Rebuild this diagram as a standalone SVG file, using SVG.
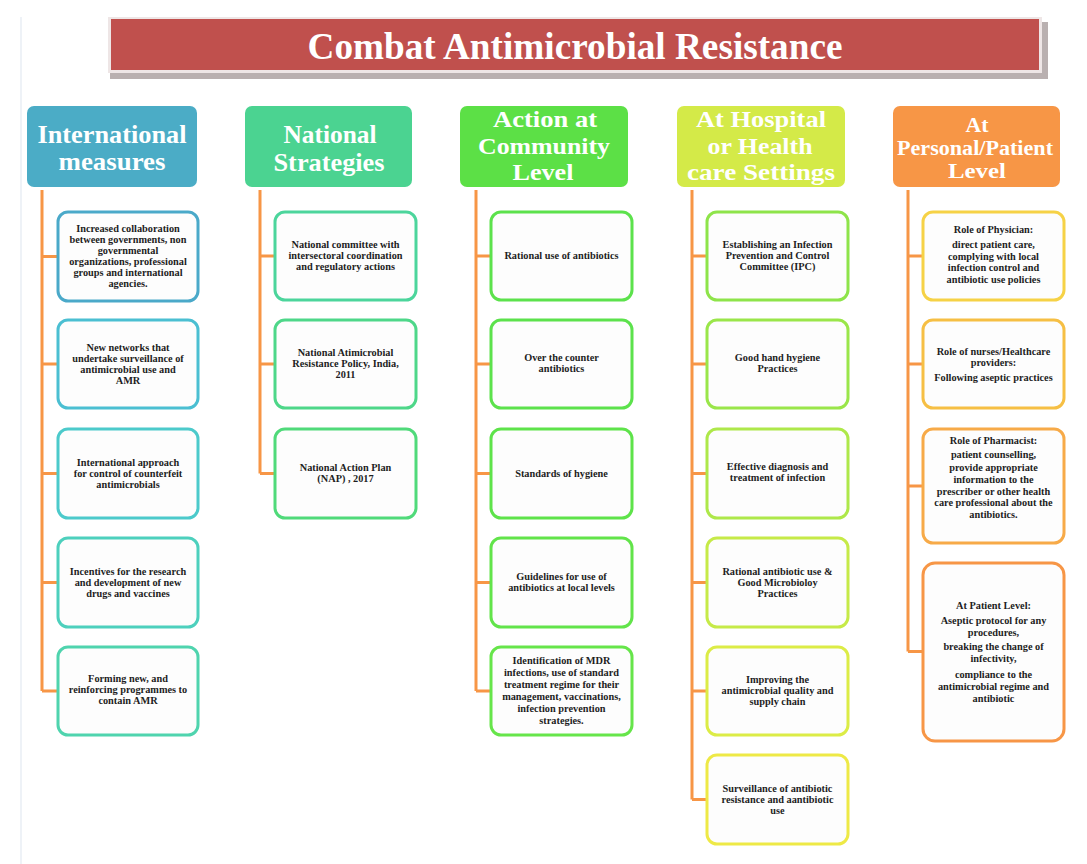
<svg xmlns="http://www.w3.org/2000/svg" width="1087" height="864" viewBox="0 0 1087 864">
<style>
.hd{font-family:"Liberation Serif","Times New Roman",serif;font-weight:bold;fill:#fff;text-anchor:middle}
.bx{fill:#fdfdfd;stroke-width:3}
.bt{font-family:"Liberation Serif","Times New Roman",serif;font-weight:bold;font-size:10.3px;fill:#1e1e1e;text-anchor:middle}
.cn{stroke:#f79646;stroke-width:3;fill:none}
</style>
<rect x="0" y="0" width="1087" height="864" fill="#fff"/>
<line x1="21" y1="17" x2="21" y2="864" stroke="#e8eef5" stroke-width="1.5"/>
<g id="title">
<rect x="110" y="22" width="938" height="57" fill="#b9b0b0"/>
<rect x="108" y="17" width="934" height="56" fill="#eee6e6"/>
<rect x="111" y="19" width="928" height="51" fill="#c0504d"/>
<text class="hd" x="575" y="59" font-size="37" textLength="535" lengthAdjust="spacingAndGlyphs">Combat Antimicrobial Resistance</text>
</g>
<g id="connectors">
<path class="cn" d="M42 190V691M42 256.5H58M42 364H58M42 473.5H58M42 582.5H58M42 691H58"/>
<path class="cn" d="M260 190V473.5M260 256H275M260 364H275M260 473.5H275"/>
<path class="cn" d="M476 190V691M476 256H491M476 364H491M476 473.5H491M476 582.5H491M476 691H491"/>
<path class="cn" d="M692 190V799.5M692 256H707M692 364H707M692 473.5H707M692 582.5H707M692 691H707M692 799.5H707"/>
<path class="cn" d="M908 190V651.5M908 256H923M908 364H923M908 486H923M908 651.5H923"/>
</g>
<g id="h1"><rect x="27" y="106" width="170" height="81" rx="7" fill="#4bacc6"/>
<text class="hd" x="112" y="143" font-size="26" textLength="149" lengthAdjust="spacingAndGlyphs">International</text>
<text class="hd" x="112" y="170" font-size="26" textLength="107" lengthAdjust="spacingAndGlyphs">measures</text></g>
<g id="h2"><rect x="245" y="106" width="167" height="81" rx="7" fill="#4bd391"/>
<text class="hd" x="330" y="143" font-size="26" textLength="93" lengthAdjust="spacingAndGlyphs">National</text>
<text class="hd" x="329" y="171" font-size="26" textLength="111" lengthAdjust="spacingAndGlyphs">Strategies</text></g>
<g id="h3"><rect x="460" y="106" width="168" height="81" rx="7" fill="#5ce046"/>
<text class="hd" x="545" y="127" font-size="24" textLength="104" lengthAdjust="spacingAndGlyphs">Action at</text>
<text class="hd" x="544" y="154" font-size="24" textLength="132" lengthAdjust="spacingAndGlyphs">Community</text>
<text class="hd" x="543" y="180" font-size="24" textLength="61" lengthAdjust="spacingAndGlyphs">Level</text></g>
<g id="h4"><rect x="677" y="106" width="168" height="81" rx="7" fill="#d4ea48"/>
<text class="hd" x="761" y="127" font-size="24" textLength="130" lengthAdjust="spacingAndGlyphs">At Hospital</text>
<text class="hd" x="760" y="154" font-size="24" textLength="105" lengthAdjust="spacingAndGlyphs">or Health</text>
<text class="hd" x="761" y="180" font-size="24" textLength="148" lengthAdjust="spacingAndGlyphs">care Settings</text></g>
<g id="h5"><rect x="893" y="106" width="167" height="81" rx="7" fill="#f79646"/>
<text class="hd" x="977" y="132" font-size="20" textLength="23" lengthAdjust="spacingAndGlyphs">At</text>
<text class="hd" x="975" y="155" font-size="20" textLength="156" lengthAdjust="spacingAndGlyphs">Personal/Patient</text>
<text class="hd" x="977" y="178" font-size="20" textLength="58" lengthAdjust="spacingAndGlyphs">Level</text></g>

<g id="c1b1"><rect class="bx" x="58" y="212" width="140" height="89" rx="10" stroke="#4aa9c9"/>
<text class="bt" x="128" y="232">Increased collaboration</text><text class="bt" x="128" y="243">between governments, non</text><text class="bt" x="128" y="254">governmental</text><text class="bt" x="128" y="265">organizations, professional</text><text class="bt" x="128" y="276">groups and international</text><text class="bt" x="128" y="287">agencies.</text></g>
<g id="c1b2"><rect class="bx" x="58" y="320" width="140" height="88" rx="10" stroke="#4bbfd2"/>
<text class="bt" x="128" y="351">New networks that</text><text class="bt" x="128" y="362">undertake surveillance of</text><text class="bt" x="128" y="373">antimicrobial use and</text><text class="bt" x="128" y="384">AMR</text></g>
<g id="c1b3"><rect class="bx" x="58" y="429" width="140" height="89" rx="10" stroke="#4ccacb"/>
<text class="bt" x="128" y="466">International approach</text><text class="bt" x="128" y="477">for control of counterfeit</text><text class="bt" x="128" y="488">antimicrobials</text></g>
<g id="c1b4"><rect class="bx" x="58" y="538" width="140" height="89" rx="10" stroke="#4dd0bd"/>
<text class="bt" x="128" y="575">Incentives for the research</text><text class="bt" x="128" y="586">and development of new</text><text class="bt" x="128" y="597">drugs and vaccines</text></g>
<g id="c1b5"><rect class="bx" x="58" y="647" width="140" height="88" rx="10" stroke="#4fd4ae"/>
<text class="bt" x="128" y="682">Forming new, and</text><text class="bt" x="128" y="693">reinforcing programmes to</text><text class="bt" x="128" y="704">contain AMR</text></g>

<g id="c2b1"><rect class="bx" x="275" y="212" width="141" height="88" rx="10" stroke="#4cd59c"/>
<text class="bt" x="345.5" y="248">National committee with</text><text class="bt" x="345.5" y="259">intersectoral coordination</text><text class="bt" x="345.5" y="270">and regulatory actions</text></g>
<g id="c2b2"><rect class="bx" x="275" y="320" width="141" height="88" rx="10" stroke="#4ed789"/>
<text class="bt" x="345.5" y="356">National Atimicrobial</text><text class="bt" x="345.5" y="367">Resistance Policy, India,</text><text class="bt" x="345.5" y="378">2011</text></g>
<g id="c2b3"><rect class="bx" x="275" y="429" width="141" height="89" rx="10" stroke="#50da7a"/>
<text class="bt" x="345.5" y="471">National Action Plan</text><text class="bt" x="345.5" y="482">(NAP) , 2017</text></g>

<g id="c3b1"><rect class="bx" x="491" y="212" width="141" height="88" rx="10" stroke="#5ce24c"/>
<text class="bt" x="561.5" y="259">Rational use of antibiotics</text></g>
<g id="c3b2"><rect class="bx" x="491" y="320" width="141" height="88" rx="10" stroke="#5ce24c"/>
<text class="bt" x="561.5" y="361">Over the counter</text><text class="bt" x="561.5" y="372">antibiotics</text></g>
<g id="c3b3"><rect class="bx" x="491" y="429" width="141" height="89" rx="10" stroke="#5ee34a"/>
<text class="bt" x="561.5" y="477">Standards of hygiene</text></g>
<g id="c3b4"><rect class="bx" x="491" y="538" width="141" height="89" rx="10" stroke="#62e44a"/>
<text class="bt" x="561.5" y="580">Guidelines for use of</text><text class="bt" x="561.5" y="591">antibiotics at local levels</text></g>
<g id="c3b5"><rect class="bx" x="491" y="647" width="141" height="88" rx="10" stroke="#66e54a"/>
<text class="bt" x="561.5" y="664">Identification of MDR</text><text class="bt" x="561.5" y="676">infections, use of standard</text><text class="bt" x="561.5" y="688">treatment regime for their</text><text class="bt" x="561.5" y="700">management, vaccinations,</text><text class="bt" x="561.5" y="712">infection prevention</text><text class="bt" x="561.5" y="724">strategies.</text></g>

<g id="c4b1"><rect class="bx" x="707" y="212" width="141" height="88" rx="10" stroke="#8ee44a"/>
<text class="bt" x="777.5" y="248">Establishing an Infection</text><text class="bt" x="777.5" y="259">Prevention and Control</text><text class="bt" x="777.5" y="270">Committee (IPC)</text></g>
<g id="c4b2"><rect class="bx" x="707" y="320" width="141" height="88" rx="10" stroke="#9ae64a"/>
<text class="bt" x="777.5" y="361">Good hand hygiene</text><text class="bt" x="777.5" y="372">Practices</text></g>
<g id="c4b3"><rect class="bx" x="707" y="429" width="141" height="89" rx="10" stroke="#aee84a"/>
<text class="bt" x="777.5" y="470">Effective diagnosis and</text><text class="bt" x="777.5" y="481">treatment of infection</text></g>
<g id="c4b4"><rect class="bx" x="707" y="538" width="141" height="89" rx="10" stroke="#c6ea48"/>
<text class="bt" x="777.5" y="575">Rational antibiotic use &amp;</text><text class="bt" x="777.5" y="586">Good Microbioloy</text><text class="bt" x="777.5" y="597">Practices</text></g>
<g id="c4b5"><rect class="bx" x="707" y="647" width="141" height="88" rx="10" stroke="#dcec46"/>
<text class="bt" x="777.5" y="683">Improving the</text><text class="bt" x="777.5" y="694">antimicrobial quality and</text><text class="bt" x="777.5" y="705">supply chain</text></g>
<g id="c4b6"><rect class="bx" x="707" y="755" width="141" height="89" rx="10" stroke="#eee946"/>
<text class="bt" x="777.5" y="792">Surveillance of antibiotic</text><text class="bt" x="777.5" y="803">resistance and aantibiotic</text><text class="bt" x="777.5" y="814">use</text></g>

<g id="c5b1"><rect class="bx" x="923" y="212" width="141" height="88" rx="10" stroke="#f6d246"/>
<text class="bt" x="993.5" y="233">Role of Physician:</text><text class="bt" x="993.5" y="248">direct patient care,</text><text class="bt" x="993.5" y="260">complying with local</text><text class="bt" x="993.5" y="271">infection control and</text><text class="bt" x="993.5" y="283">antibiotic use policies</text></g>
<g id="c5b2"><rect class="bx" x="923" y="320" width="141" height="88" rx="10" stroke="#f6bf44"/>
<text class="bt" x="993.5" y="355">Role of nurses/Healthcare</text><text class="bt" x="993.5" y="366">providers:</text><text class="bt" x="993.5" y="381">Following aseptic practices</text></g>
<g id="c5b3"><rect class="bx" x="923" y="429" width="141" height="114" rx="10" stroke="#f7aa48"/>
<text class="bt" x="993.5" y="444">Role of Pharmacist:</text><text class="bt" x="993.5" y="458">patient counselling,</text><text class="bt" x="993.5" y="471">provide appropriate</text><text class="bt" x="993.5" y="483">information to the</text><text class="bt" x="993.5" y="495">prescriber or other health</text><text class="bt" x="993.5" y="506">care professional about the</text><text class="bt" x="993.5" y="518">antibiotics.</text></g>
<g id="c5b4"><rect class="bx" x="923" y="563" width="141" height="178" rx="12" stroke="#f79646"/>
<text class="bt" x="993.5" y="609">At Patient Level:</text><text class="bt" x="993.5" y="624">Aseptic protocol for any</text><text class="bt" x="993.5" y="636">procedures,</text><text class="bt" x="993.5" y="650">breaking the change of</text><text class="bt" x="993.5" y="662">infectivity,</text><text class="bt" x="993.5" y="678">compliance to the</text><text class="bt" x="993.5" y="690">antimicrobial regime and</text><text class="bt" x="993.5" y="702">antibiotic</text></g>
</svg>
